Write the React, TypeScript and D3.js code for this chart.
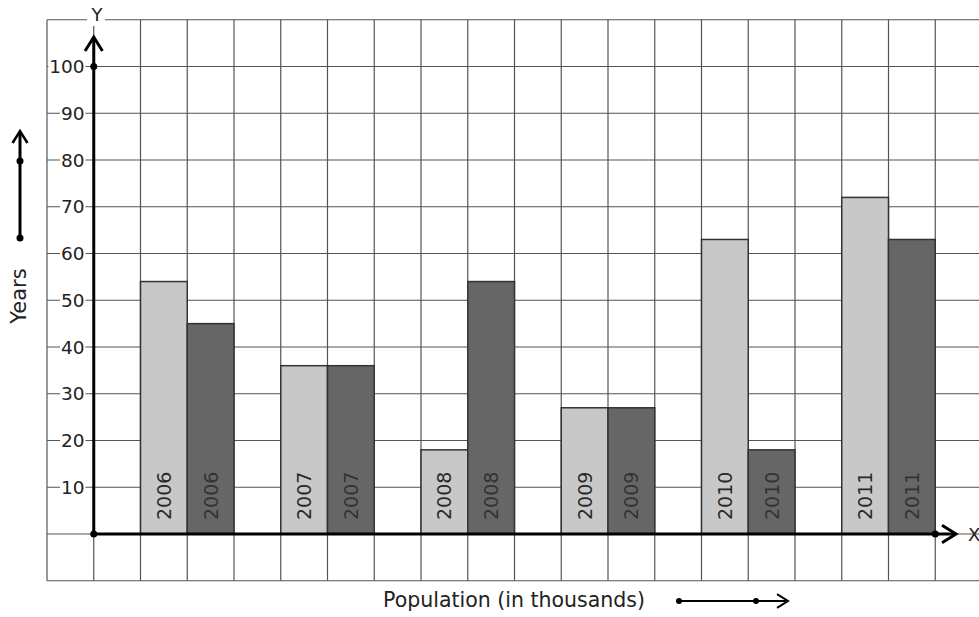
import React from "react";
import * as d3 from "d3";

const years = ["2006", "2007", "2008", "2009", "2010", "2011"];
const lightValues = [54, 36, 18, 27, 63, 72];
const darkValues = [45, 36, 54, 27, 18, 63];
const yTicks = [10, 20, 30, 40, 50, 60, 70, 80, 90, 100];

const W = 979;
const H = 617;
const CELL = 46.75;
const X0 = 47;
const FONT = "DejaVu Sans, sans-serif";

export default function App() {
  const col = d3.scaleLinear().domain([0, 1]).range([X0, X0 + CELL]);
  const y = d3.scaleLinear().domain([0, 100]).range([534, 534 - 10 * CELL]);
  const gridCols = d3.range(0, 21);
  const gridRows = d3.range(-10, 120, 10);
  const axisX = col(1);
  const axisY = y(0);
  const top = y(110);
  const bottom = y(-10);

  const chevron = (tx: number, ty: number, dir: "up" | "right", s = 12) => {
    if (dir === "up") return `M${tx - s * 0.62},${ty + s} L${tx},${ty} L${tx + s * 0.62},${ty + s}`;
    return `M${tx - s},${ty - s * 0.62} L${tx},${ty} L${tx - s},${ty + s * 0.62}`;
  };

  return (
    <svg width={W} height={H} style={{ position: "absolute", left: 0, top: 0, background: "#fff" }} fontFamily={FONT}>
      <rect x={0} y={0} width={W} height={H} fill="#fff" />
      {gridCols.map((i) => (
        <line key={"v" + i} x1={col(i)} x2={col(i)} y1={top} y2={bottom} stroke="#555" strokeWidth={1.2} />
      ))}
      {gridRows.map((v) => (
        <line key={"h" + v} x1={X0} x2={W} y1={y(v)} y2={y(v)} stroke="#555" strokeWidth={1.2} />
      ))}
      {years.map((yr, i) => {
        const xl = col(2 + 3 * i);
        const xd = col(3 + 3 * i);
        return (
          <g key={yr}>
            <rect x={xl} y={y(lightValues[i])} width={CELL} height={axisY - y(lightValues[i])} fill="#c8c8c8" stroke="#333" strokeWidth={1.5} />
            <rect x={xd} y={y(darkValues[i])} width={CELL} height={axisY - y(darkValues[i])} fill="#666666" stroke="#333" strokeWidth={1.5} />
            <text transform={`translate(${xl + CELL / 2 + 7},${axisY - 14}) rotate(-90)`} fontSize={19} fill="#2a2a2a">{yr}</text>
            <text transform={`translate(${xd + CELL / 2 + 7},${axisY - 14}) rotate(-90)`} fontSize={19} fill="#333">{yr}</text>
          </g>
        );
      })}
      {yTicks.map((v) => (
        <g key={"t" + v}>
          <rect x={v === 100 ? 48.5 : 60} y={y(v) - 9} width={v === 100 ? 37 : 25.5} height={18} fill="#fff" />
          <text x={84.5} y={y(v) + 6.5} textAnchor="end" fontSize={18.5} fill="#222">{v}</text>
        </g>
      ))}
      <line x1={axisX} x2={axisX} y1={axisY} y2={38} stroke="#000" strokeWidth={3} />
      <path d={chevron(axisX, 37, "up", 14)} fill="none" stroke="#000" strokeWidth={3} />
      <line x1={axisX} x2={955} y1={axisY} y2={axisY} stroke="#000" strokeWidth={3} />
      <path d={chevron(956, axisY, "right", 14)} fill="none" stroke="#000" strokeWidth={3} />
      <circle cx={axisX} cy={axisY} r={3.5} fill="#000" />
      <circle cx={axisX} cy={y(100)} r={3.5} fill="#000" />
      <circle cx={col(19)} cy={axisY} r={3.5} fill="#000" />
      <rect x={87} y={10} width={18} height={16} fill="#fff" />
      <text x={97} y={21} textAnchor="middle" fontSize={18} fill="#222">Y</text>
      <text x={968} y={541} fontSize={18} fill="#222">X</text>
      <text transform={`translate(26,296) rotate(-90)`} textAnchor="middle" fontSize={21} fill="#222">Years</text>
      <line x1={20} x2={20} y1={238} y2={132} stroke="#000" strokeWidth={3} />
      <path d={chevron(20, 131, "up", 12)} fill="none" stroke="#000" strokeWidth={2.5} />
      <circle cx={20} cy={161} r={3.5} fill="#000" />
      <circle cx={20} cy={238} r={3.5} fill="#000" />
      <text x={514} y={607} textAnchor="middle" fontSize={20.5} fill="#222">Population (in thousands)</text>
      <line x1={679} x2={786} y1={601} y2={601} stroke="#000" strokeWidth={2} />
      <path d={chevron(788, 601, "right", 11)} fill="none" stroke="#000" strokeWidth={2} />
      <circle cx={679} cy={601} r={3} fill="#000" />
      <circle cx={756} cy={601} r={3} fill="#000" />
    </svg>
  );
}
